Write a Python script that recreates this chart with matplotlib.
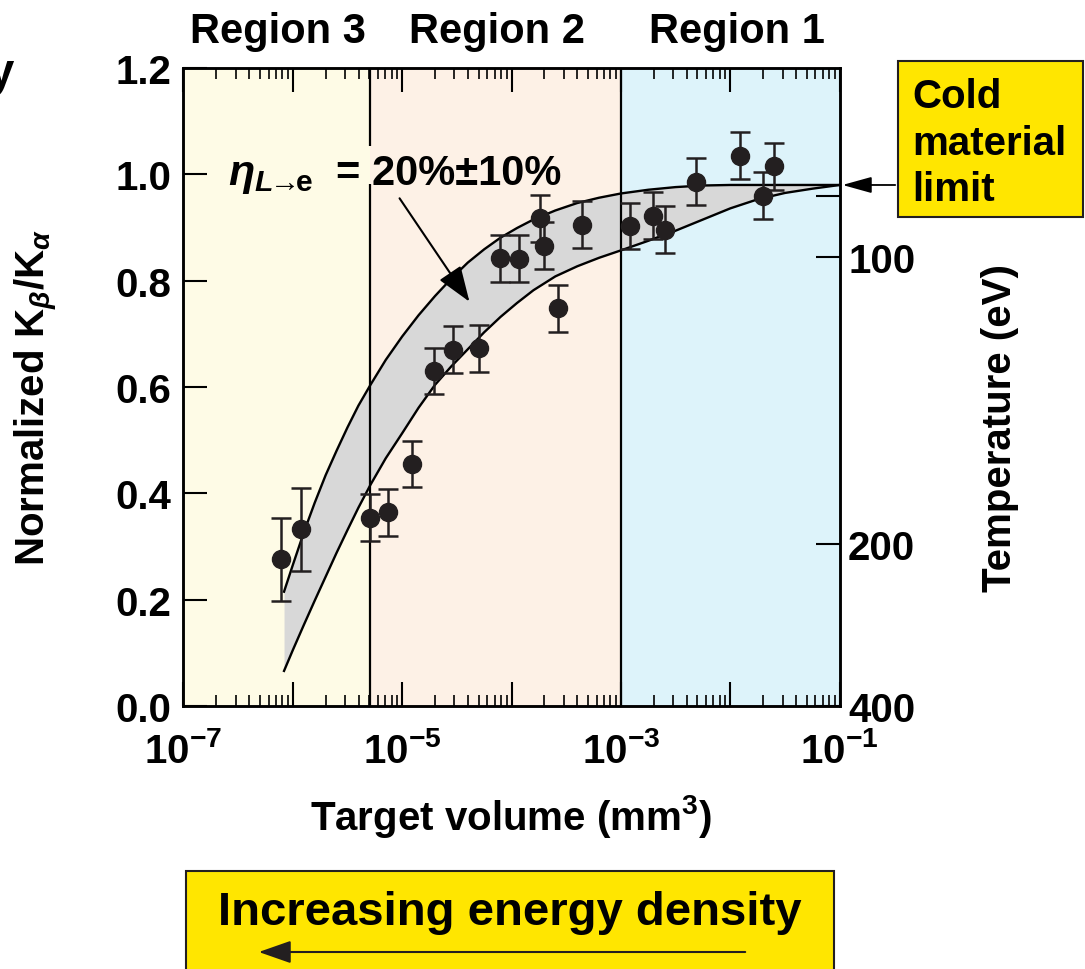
import numpy as np
import matplotlib
matplotlib.use("Agg")
import matplotlib.pyplot as plt
from matplotlib.ticker import LogLocator, NullFormatter
from matplotlib.patches import Rectangle, FancyArrowPatch

plt.rcParams['font.family'] = ['Liberation Sans', 'DejaVu Sans']
plt.rcParams['font.weight'] = 'bold'
plt.rcParams['mathtext.fontset'] = 'custom'
plt.rcParams['mathtext.rm'] = 'Liberation Sans:bold'
plt.rcParams['mathtext.it'] = 'Liberation Sans:italic:bold'
plt.rcParams['mathtext.bf'] = 'Liberation Sans:bold'
plt.rcParams['mathtext.sf'] = 'Liberation Sans:bold'

# ---- measured Kbeta/Kalpha ratios vs target volume ----
volume_mm3 = [7.8e-7, 1.19e-6, 5.08e-6, 7.46e-6, 1.24e-5, 1.96e-5, 2.93e-5,
              5.0e-5, 7.83e-5, 1.17e-4, 1.82e-4, 1.98e-4, 2.65e-4, 4.38e-4,
              1.21e-3, 1.95e-3, 2.52e-3, 4.85e-3, 1.22e-2, 1.97e-2, 2.52e-2]
kb_ka = [0.276, 0.332, 0.354, 0.364, 0.455, 0.630, 0.670,
         0.673, 0.842, 0.841, 0.917, 0.866, 0.748, 0.905,
         0.903, 0.922, 0.896, 0.986, 1.035, 0.960, 1.015]
kb_ka_err = [0.078, 0.078, 0.044, 0.044, 0.044, 0.044, 0.044,
             0.044, 0.044, 0.044, 0.044, 0.044, 0.044, 0.044,
             0.044, 0.044, 0.044, 0.044, 0.044, 0.044, 0.044]

# ---- model band for a laser-to-electron conversion of 20% +/- 10% ----
band_log_volume = [-6.08, -6.00, -5.90, -5.80, -5.70, -5.60, -5.50, -5.40,
                   -5.29, -5.15, -5.00, -4.85, -4.70, -4.55, -4.40, -4.25,
                   -4.10, -3.95, -3.80, -3.60, -3.40, -3.20, -3.00, -2.75,
                   -2.50, -2.25, -2.00, -1.75, -1.50, -1.25, -1.00]
band_upper = [0.215, 0.265, 0.326, 0.382, 0.434, 0.480, 0.524, 0.565,
              0.604, 0.651, 0.695, 0.735, 0.771, 0.804, 0.834, 0.859,
              0.881, 0.899, 0.915, 0.932, 0.946, 0.956, 0.964, 0.971,
              0.976, 0.979, 0.980, 0.980, 0.980, 0.980, 0.980]
band_lower = [0.066, 0.105, 0.152, 0.198, 0.243, 0.288, 0.331, 0.373,
              0.416, 0.466, 0.513, 0.561, 0.604, 0.639, 0.671, 0.703,
              0.732, 0.758, 0.782, 0.808, 0.827, 0.843, 0.857, 0.875,
              0.894, 0.915, 0.936, 0.953, 0.965, 0.973, 0.980]

cold_limit = 0.98

# ---- regions ----
region_edges = [1e-7, 5.08e-6, 1e-3, 1e-1]
region_names = ['Region 3', 'Region 2', 'Region 1']
region_colors = ['#FEFBE6', '#FDF1E6', '#DDF3FA']

# ---- axis ticks ----
x_decades = [1e-7, 1e-6, 1e-5, 1e-4, 1e-3, 1e-2, 1e-1]
x_labels = [r'$10^{-7}$', '', r'$10^{-5}$', '', r'$10^{-3}$', '', r'$10^{-1}$']
y_ticks = [0.0, 0.2, 0.4, 0.6, 0.8, 1.0, 1.2]
y_labels = ['0.0', '0.2', '0.4', '0.6', '0.8', '1.0', '1.2']
temp_tick_pos = [0.960, 0.844, 0.305, 0.0]
temp_tick_labels = ['', '100', '200', '400']

W, H = 1085, 970


def fpx(x, y):
    """Pixel position (from top-left) to figure fraction."""
    return x / W, 1 - y / H


fig = plt.figure(figsize=(W / 100, H / 100), dpi=100)
ax_left, ax_right, ax_top, ax_bot = 183.4, 839.7, 69, 707
ax = fig.add_axes([ax_left / W, 1 - ax_bot / H, (ax_right - ax_left) / W,
                   (ax_bot - ax_top) / H])

ax.set_xscale('log')
ax.set_xlim(region_edges[0], region_edges[-1])
ax.set_ylim(0, 1.2)

for lo, hi, c in zip(region_edges[:-1], region_edges[1:], region_colors):
    ax.axvspan(lo, hi, color=c, lw=0, zorder=0)

band_volume = np.power(10.0, band_log_volume)
ax.fill_between(band_volume, band_lower, band_upper, color='#D8D8D8', lw=0,
                zorder=1)
ax.plot(band_volume, band_upper, color='black', lw=1.7, zorder=2,
        solid_joinstyle='round')
ax.plot(band_volume, band_lower, color='black', lw=1.7, zorder=2,
        solid_joinstyle='round')

# region boundaries (first one interrupted behind the annotation text)
ax.vlines(region_edges[1], 0, 0.982, color='black', lw=1.6, zorder=2)
ax.vlines(region_edges[1], 1.053, 1.2, color='black', lw=1.6, zorder=2)
ax.vlines(region_edges[2], 0, 1.2, color='black', lw=1.6, zorder=2)

ax.errorbar(volume_mm3, kb_ka, yerr=kb_ka_err, fmt='o', ms=13,
            color='#231F20', ecolor='#231F20', elinewidth=1.8, capsize=7,
            capthick=1.8, zorder=4)

for s in ax.spines.values():
    s.set_linewidth(1.8)

ax.set_xticks(x_decades)
ax.set_xticklabels(x_labels)
ax.xaxis.set_minor_locator(LogLocator(base=10, subs=np.arange(2, 10),
                                      numticks=20))
ax.xaxis.set_minor_formatter(NullFormatter())
ax.set_yticks(y_ticks)
ax.set_yticklabels(y_labels)
ax.tick_params(which='major', direction='in', length=17, width=1.5,
               top=True, bottom=True, left=True, right=False, labelsize=29)
ax.tick_params(axis='x', which='major', pad=18)
ax.tick_params(axis='y', which='major', pad=9)
ax.tick_params(which='minor', direction='in', length=8, width=1.2,
               top=True, bottom=True)

ax2 = ax.twinx()
ax2.set_ylim(0, 1.2)
ax2.set_yticks(temp_tick_pos)
ax2.set_yticklabels(temp_tick_labels)
ax2.tick_params(direction='in', length=17, width=1.5, labelsize=29, pad=6)
for s in ax2.spines.values():
    s.set_linewidth(1.8)

# axis titles
fig.text(*fpx(37, 397), r'Normalized K$_{\beta}$/K$_{\alpha}$', rotation=90,
         ha='center', va='center', fontsize=29)
fig.text(*fpx(1000, 428), 'Temperature (eV)', rotation=90, ha='center',
         va='center', fontsize=29)
fig.text(*fpx(511, 817), r'Target volume (mm$^{3}$)', ha='center',
         va='center', fontsize=29)

# region names
for name, xc in zip(region_names, [278, 497, 737]):
    fig.text(*fpx(xc, 43), name, ha='center', va='baseline', fontsize=30)

fig.text(*fpx(14, 86), 'y', ha='right', va='baseline', fontsize=34)

# conversion efficiency annotation
fig.text(*fpx(228, 185),
         r'$\eta_{L\!\!\rightarrow\!\!\mathrm{e}}$',
         ha='left', va='baseline', fontsize=31)
fig.text(*fpx(336, 185), '= 20%±10%', ha='left', va='baseline', fontsize=30)
ax.annotate('', xy=fpx(471, 305), xycoords='figure fraction',
            xytext=fpx(398, 197), textcoords='figure fraction',
            arrowprops=dict(arrowstyle='-|>,head_length=1.1,head_width=0.4',
                            mutation_scale=20, lw=1.5, color='black'))

# cold material limit box
x0, y0 = fpx(898, 218)
x1, y1 = fpx(1083, 62)
fig.patches.append(Rectangle((x0, y0), x1 - x0, y1 - y0,
                             transform=fig.transFigure, facecolor='#FFE600',
                             edgecolor='#231F20', lw=1.5, zorder=5))
for line, yb in zip(['Cold', 'material', 'limit'], [108, 155, 201]):
    fig.text(*fpx(912, yb), line, ha='left', va='baseline', fontsize=29,
             zorder=6)
ax2.annotate('', xy=(1.0, cold_limit), xycoords=('axes fraction', 'data'),
             xytext=fpx(898, 186), textcoords='figure fraction',
             arrowprops=dict(arrowstyle='-|>,head_length=0.9,head_width=0.25',
                             mutation_scale=20, lw=1.3, color='black'),
             annotation_clip=False)

# energy density box
x0, y0 = fpx(186, 1000)
x1, y1 = fpx(834, 872)
fig.patches.append(Rectangle((x0, y0), x1 - x0, y1 - y0,
                             transform=fig.transFigure, facecolor='#FFE600',
                             edgecolor='#231F20', lw=1.5, zorder=5))
fig.text(*fpx(510, 925), 'Increasing energy density', ha='center',
         va='baseline', fontsize=34, zorder=6)
fig.add_artist(FancyArrowPatch(fpx(748, 953), fpx(256, 953),
                               transform=fig.transFigure,
                               arrowstyle='-|>,head_length=1.0,head_width=0.35',
                               mutation_scale=20, lw=1.5, color='#231F20',
                               zorder=7))

fig.savefig('out.png', dpi=100)
